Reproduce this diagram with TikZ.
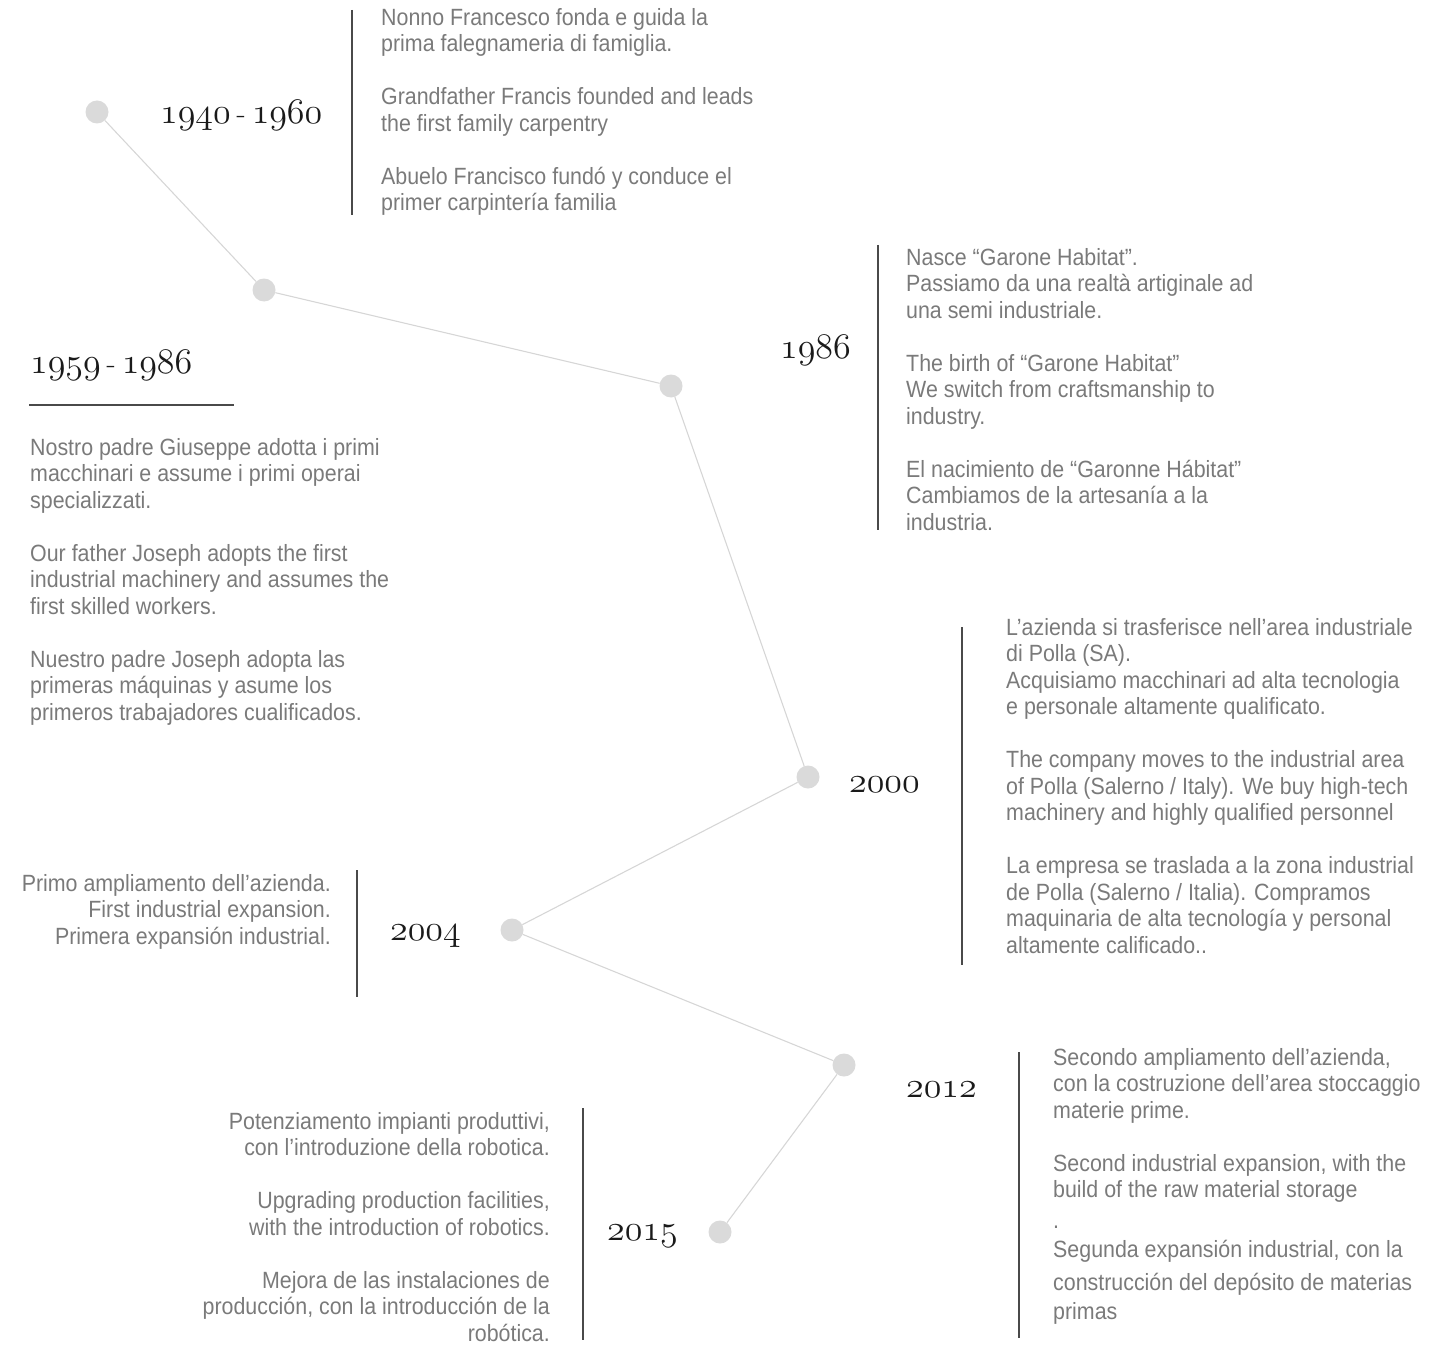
\documentclass[tikz,border=0pt]{standalone}
\usepackage{fontspec}
\newfontfamily\storyfont{Liberation Sans}[FakeStretch=0.91]
\font\yearfigs=cmmi12 at 36pt
\definecolor{dotgray}{HTML}{DADADA}
\definecolor{linkgray}{HTML}{D6D6D6}
\definecolor{bargray}{HTML}{4A4A4A}
\definecolor{textgray}{HTML}{7A7A7A}
\definecolor{yearblack}{HTML}{1A1A1A}
\newcommand{\yr}[1]{{\yearfigs #1}}
\newcommand{\yrdash}{\hspace{6pt}-\hspace{6pt}}
\tikzset{
    yeardot/.style = {circle, fill=dotgray, minimum size=23pt, inner sep=0pt},
    linkline/.style = {draw=linkgray, line width=1.1pt},
    sidebar/.style = {draw=bargray, line width=1.4pt},
    yearlabel/.style = {anchor=base west, inner sep=0pt, text=yearblack,
        font=\fontsize{30}{36}\selectfont},
    storytext/.style = {inner sep=0pt, text=textgray,
        font=\storyfont\fontsize{23.5}{26.5}\selectfont},
    storyleft/.style = {storytext, anchor=north west, align=left},
    storyright/.style = {storytext, anchor=north east, align=right}
}

\begin{document}
\begin{tikzpicture}[x=1pt,y=-1pt]
    \useasboundingbox (0,0) rectangle (1450,1348);

    % timeline dots and links
    \foreach \n/\pos in {1/{97,112}, 2/{264,290}, 3/{671,386}, 4/{808,777},
                         5/{512,930}, 6/{844,1065}, 7/{720,1232}}
        \node[yeardot] (d\n) at (\pos) {};
    \foreach \n [remember=\n as \lastn (initially 1)] in {2,...,7}
        \draw[linkline] (d\lastn) -- (d\n);

    % side bars
    \draw[sidebar] (352,10) -- (352,215);
    \draw[sidebar] (878,245) -- (878,530);
    \draw[sidebar] (962,627) -- (962,965);
    \draw[sidebar] (357,870) -- (357,997);
    \draw[sidebar] (583,1108) -- (583,1340);
    \draw[sidebar] (1019,1052) -- (1019,1338);
    \draw[sidebar] (29,405) -- (234,405);

    % years
    \node[yearlabel] (y1940) at (160,124) {\yr{1940}\yrdash\yr{1960}};
    \node[yearlabel] (y1959) at (30,373) {\yr{1959}\yrdash\yr{1986}};
    \node[yearlabel] (y1986) at (780,358) {\yr{1986}};
    \node[yearlabel] (y2000) at (849,792) {\yr{2000}};
    \node[yearlabel] (y2004) at (390,940) {\yr{2004}};
    \node[yearlabel] (y2012) at (906,1097) {\yr{2012}};
    \node[yearlabel] (y2015) at (607,1240) {\yr{2015}};

    % texts
    \node[storyleft] (t1940) at (381,8) {%
        Nonno Francesco fonda e guida la\\
        prima falegnameria di famiglia.\\[26.5pt]
        Grandfather Francis founded and leads\\
        the first family carpentry\\[26.5pt]
        Abuelo Francisco fundó y conduce el\\
        primer carpintería familia};
    \node[storyleft] (t1959) at (30,438) {%
        Nostro padre Giuseppe adotta i primi\\
        macchinari e assume i primi operai\\
        specializzati.\\[26.5pt]
        Our father Joseph adopts the first\\
        industrial machinery and assumes the\\
        first skilled workers.\\[26.5pt]
        Nuestro padre Joseph adopta las\\
        primeras máquinas y asume los\\
        primeros trabajadores cualificados.};
    \node[storyleft] (t1986) at (906,248) {%
        Nasce “Garone Habitat”.\\
        Passiamo da una realtà artiginale ad\\
        una semi industriale.\\[26.5pt]
        The birth of “Garone Habitat”\\
        We switch from craftsmanship to\\
        industry.\\[26.5pt]
        El nacimiento de “Garonne Hábitat”\\
        Cambiamos de la artesanía a la\\
        industria.};
    \node[storyleft] (t2000) at (1006,618) {%
        L’azienda si trasferisce nell’area industriale\\
        di Polla (SA).\\
        Acquisiamo macchinari ad alta tecnologia\\
        e personale altamente qualificato.\\[26.5pt]
        The company moves to the industrial area\\
        of Polla (Salerno / Italy). We buy high-tech\\
        machinery and highly qualified personnel\\[26.5pt]
        La empresa se traslada a la zona industrial\\
        de Polla (Salerno / Italia). Compramos\\
        maquinaria de alta tecnología y personal\\
        altamente calificado..};
    \node[storyright] (t2004) at (331,874) {%
        Primo ampliamento dell’azienda.\\
        First industrial expansion.\\
        Primera expansión industrial.};
    \node[storyleft] (t2012) at (1053,1048) {%
        Secondo ampliamento dell’azienda,\\
        con la costruzione dell’area stoccaggio\\
        materie prime.\\[26.5pt]
        Second industrial expansion, with the\\
        build of the raw material storage\\[4pt]
        .\\[3pt]
        Segunda expansión industrial, con la\\[6pt]
        construcción del depósito de materias\\[3pt]
        primas};
    \node[storyright] (t2015) at (550,1112) {%
        Potenziamento impianti produttivi,\\
        con l’introduzione della robotica.\\[26.5pt]
        Upgrading production facilities,\\
        with the introduction of robotics.\\[26.5pt]
        Mejora de las instalaciones de\\
        producción, con la introducción de la\\
        robótica.};
\end{tikzpicture}
\end{document}
